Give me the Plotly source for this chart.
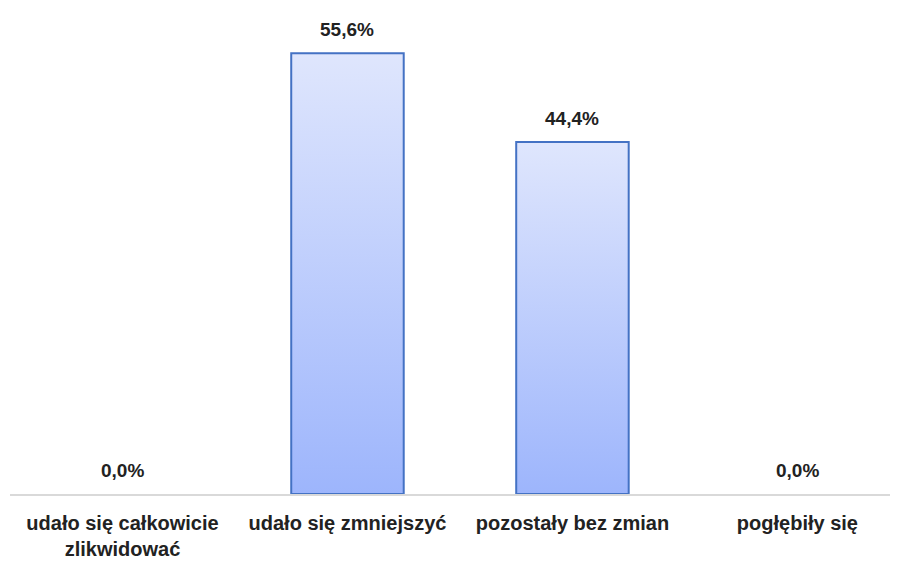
import plotly.graph_objects as go

categories = ["udało się całkowicie<br>zlikwidować", "udało się zmniejszyć", "pozostały bez zmian", "pogłębiły się"]
values = [0.0, 55.6, 44.4, 0.0]
labels = ["0,0%", "55,6%", "44,4%", "0,0%"]

BAR_W = 0.5
FONT = "Liberation Sans, Arial, sans-serif"

fig = go.Figure()
for i, v in enumerate(values):
    if v <= 0:
        continue
    x0, x1 = i - BAR_W / 2, i + BAR_W / 2
    fig.add_trace(go.Scatter(
        x=[x0, x0, x1, x1, x0], y=[0, v, v, 0, 0],
        mode="lines", fill="toself",
        fillgradient=dict(type="vertical",
                          colorscale=[[0, "#9db5fc"], [1, "#dfe6fd"]]),
        line=dict(color="#4472c4", width=2),
        hoverinfo="skip", showlegend=False,
    ))

for i, (v, t) in enumerate(zip(values, labels)):
    fig.add_annotation(
        x=i, y=v, text=t, showarrow=False, yanchor="bottom", yshift=11,
        font=dict(family=FONT, size=19, color="#222222", weight="bold"),
    )

fig.update_layout(
    width=890, height=557,
    margin=dict(l=2, r=0, t=0, b=71),
    plot_bgcolor="white", paper_bgcolor="white",
    xaxis=dict(range=[-0.5, 3.447], tickmode="array", automargin=False,
               tickvals=list(range(len(categories))), ticktext=categories,
               showgrid=False, zeroline=False, showline=True,
               linecolor="#d9d9d9", linewidth=2,
               ticks="outside", ticklen=10, tickcolor="rgba(0,0,0,0)",
               tickfont=dict(family=FONT, size=20, color="#222222", weight="bold")),
    yaxis=dict(range=[0, 61.3], visible=False, showgrid=False, automargin=False),
)

fig.write_html("out.html")
